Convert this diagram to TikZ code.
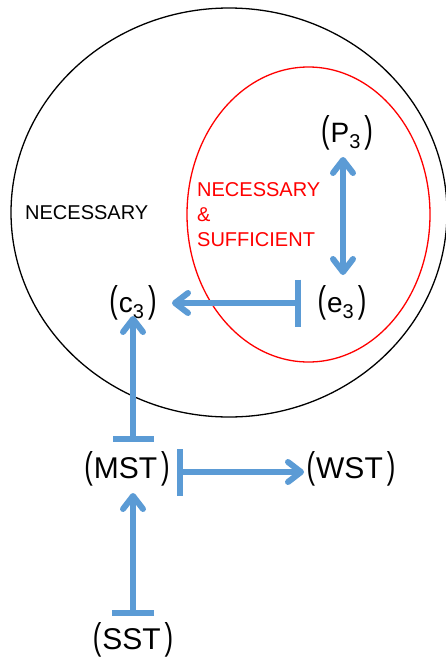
\documentclass[tikz,border=0pt]{standalone}
\usepackage{fontspec}
\usepackage{graphicx}
\setmainfont{Liberation Sans}
\usetikzlibrary{arrows.meta,calc}
\definecolor{arrblue}{HTML}{5B9BD5}
\newcommand{\bigpar}[1]{\scalebox{0.95}[1.38]{\fontsize{27}{27}\selectfont #1}}
\newcommand{\plab}[2]{\bigpar{(}\kern1pt#1\raisebox{-6pt}{\fontsize{20}{20}\selectfont #2}\kern4pt\bigpar{)}}
\newcommand{\wlab}[1]{\bigpar{(}\kern1pt{\fontsize{30}{30}\selectfont #1}\kern4pt\bigpar{)}}
\begin{document}
\begin{tikzpicture}[x=1pt,y=-1pt,
  lab/.style={inner sep=0pt,font=\fontsize{28}{28}\selectfont},
  txt/.style={inner sep=0pt,font=\fontsize{20}{25}\selectfont,align=left,anchor=west},
  conn/.style={draw=arrblue,line width=6pt},
  inh/.style={conn,{Bar[width=#1,line cap=butt]}-{Straight Barb[length=13pt,width=20pt,line cap=round,line join=round]}},
  both/.style={conn,{Straight Barb[length=13pt,width=20pt,line cap=round,line join=round]}-{Straight Barb[length=13pt,width=20pt,line cap=round,line join=round]}}]
\useasboundingbox (0,0) rectangle (446,662);
\draw[line width=1.3pt] (229,212.5) ellipse [x radius=218, y radius=204.5];
\draw[red,line width=1.3pt] (308.5,214.5) ellipse [x radius=121.5, y radius=147.5];
\node[txt] (nec) at (25,213) {NECESSARY};
\node[txt,text=red] (ns) at (197,215) {NECESSARY\\\&\\SUFFICIENT};
\node[lab] (P3) at (347,133) {\plab{P}{3}};
\node[lab] (e3) at (342,303) {\plab{e}{3}};
\node[lab] (c3) at (133,303) {\plab{c}{3}};
\node[lab] (MST) at (127,469) {\wlab{MST}};
\node[lab] (WST) at (351,469) {\wlab{WST}};
\node[lab] (SST) at (133,640) {\wlab{SST}};
\draw[both] ($(P3.center)+(-4,24)$) -- ($(P3.center |- e3.center)+(-4,-28)$);
\draw[inh=47pt] ($(e3.center)+(-41,0)$) -- ($(c3.center)+(39,0)$);
\draw[inh=41pt] ($(MST.center -| c3.center)+(0,-27)$) -- ($(c3.center)+(0,13)$);
\draw[inh=47pt] ($(MST.center)+(50,3)$) -- ($(MST.center -| WST.center)+(-47,3)$);
\draw[inh=42pt] ($(SST.center)+(0,-24)$) -- ($(SST.center |- MST.center)+(0,24)$);
\end{tikzpicture}
\end{document}
